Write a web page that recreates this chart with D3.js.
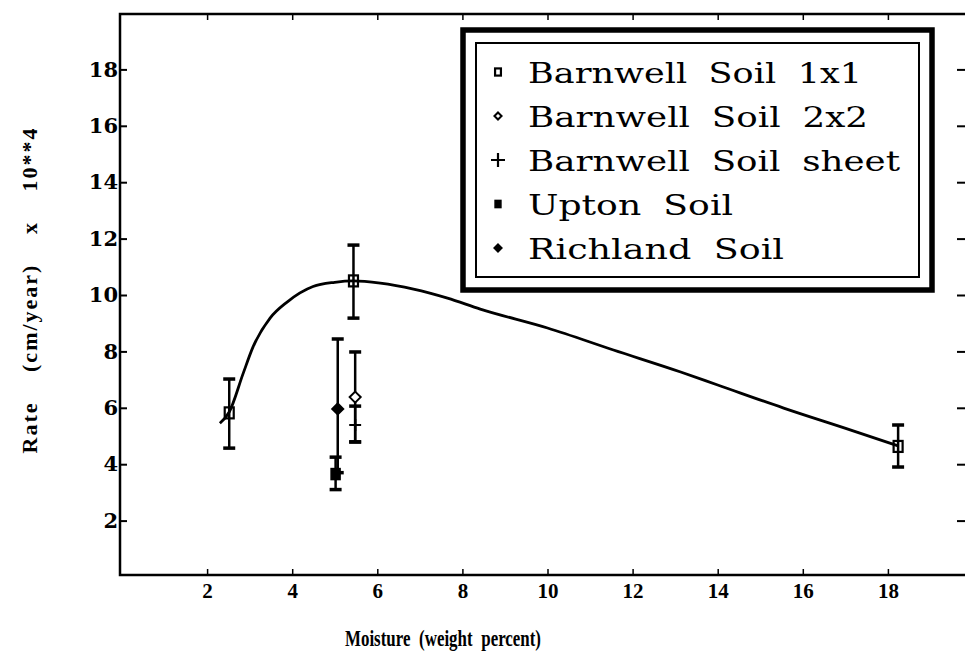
<!DOCTYPE html>
<html><head><meta charset="utf-8">
<script src="https://cdn.jsdelivr.net/npm/d3@7"></script>
<style>body{margin:0;background:#fff}svg{display:block}</style>
</head><body>
<svg id="c" width="965" height="653"></svg>
<script>
// ---------- data ----------
const xTicks = [2, 4, 6, 8, 10, 12, 14, 16, 18];
const yTicks = [2, 4, 6, 8, 10, 12, 14, 16, 18];
const seriesNames = ["Barnwell Soil 1x1", "Barnwell Soil 2x2", "Barnwell Soil sheet", "Upton Soil", "Richland Soil"];
const seriesSymbols = ["squareOpen", "diamondOpen", "plus", "squareFilled", "diamondFilled"];
// each point: [moisture, rate, lower error, upper error]
const barnwell1x1 = [[2.52, 5.82, 4.57, 7.02], [5.44, 10.5, 9.18, 11.77], [18.24, 4.63, 3.9, 5.39]];
const barnwell2x2 = [[5.48, 6.38, 4.79, 7.98]];
const barnwellSheet = [[5.48, 5.39, 4.79, 6.06]];
const upton = [[5.02, 3.65, 3.1, 4.25]];
const richland = [[5.07, 5.96, 3.7, 8.44]];
// fitted curve
const fitX = [2.3, 2.52, 2.85, 3.08, 3.48, 3.88, 4.49, 5.0, 5.44, 6.07, 6.85, 7.65, 8.42, 10.0, 11.55, 13.13, 14.0, 15.55, 17.13, 18.24];
const fitY = [5.45, 5.85, 7.23, 8.16, 9.18, 9.75, 10.3, 10.45, 10.5, 10.42, 10.21, 9.89, 9.5, 8.83, 8.05, 7.27, 6.81, 5.99, 5.21, 4.65];
// legend text widths (px)
const legendWidths = [334, 340, 372, 205, 256];

// ---------- chart ----------
const svg = d3.select("#c");
const x = d3.scaleLinear().domain([0, 20]).range([122, 973]);
const y = d3.scaleLinear().domain([0, 20]).range([577, 13]);
const L = 120, R = 968, T = 14, B = 575;

// axes
const gl = svg.append("g").attr("transform", `translate(${L},0)`)
  .call(d3.axisLeft(y).tickValues(yTicks).tickSize(-7).tickPadding(2));
gl.select(".domain").remove();
gl.selectAll("text").attr("font-family", "DejaVu Serif").attr("font-weight", "bold")
  .attr("font-size", 21).attr("fill", "#000");
gl.selectAll("line").attr("stroke", "#000").attr("stroke-width", 2);

const gb = svg.append("g").attr("transform", `translate(0,${B})`)
  .call(d3.axisBottom(x).tickValues(xTicks).tickSize(-6).tickPadding(8));
gb.select(".domain").remove();
gb.selectAll("text").attr("font-family", "Liberation Serif").attr("font-weight", "bold")
  .attr("font-size", 21).attr("fill", "#000");
gb.selectAll("line").attr("stroke", "#000").attr("stroke-width", 1.5);

const gt = svg.append("g").attr("transform", `translate(0,${T})`)
  .call(d3.axisTop(x).tickValues(xTicks).tickSize(-6).tickFormat(""));
gt.select(".domain").remove();
gt.selectAll("line").attr("stroke", "#000").attr("stroke-width", 1.5);

const gr = svg.append("g").attr("transform", `translate(${R},0)`)
  .call(d3.axisRight(y).tickValues(yTicks).tickSize(-11).tickFormat(""));
gr.select(".domain").remove();
gr.selectAll("line").attr("stroke", "#000").attr("stroke-width", 2);

// frame
svg.append("path").attr("d", `M${L},${B}V${T}H${R}V${B}Z`)
  .attr("fill", "none").attr("stroke", "#000").attr("stroke-width", 2.5);

// axis titles
svg.append("text").attr("x", 443).attr("y", 646).attr("text-anchor", "middle")
  .attr("font-family", "Liberation Serif").attr("font-weight", "bold").attr("font-size", 23)
  .attr("word-spacing", 6)
  .attr("textLength", 196).attr("lengthAdjust", "spacingAndGlyphs")
  .text("Moisture (weight percent)");
svg.append("text").attr("transform", "translate(37,290) rotate(-90)").attr("text-anchor", "middle")
  .attr("font-family", "Liberation Serif").attr("font-weight", "bold").attr("font-size", 22)
  .attr("word-spacing", 22).attr("letter-spacing", 2)
  .text("Rate (cm/year) x 10**4");

// fitted curve
const line = d3.line().x(d => x(d[0])).y(d => y(d[1])).curve(d3.curveMonotoneX);
svg.append("path").datum(fitX.map((v, i) => [v, fitY[i]])).attr("d", line)
  .attr("fill", "none").attr("stroke", "#000").attr("stroke-width", 2.8);

// symbols
function drawSymbol(g, type, cx, cy, s) {
  if (type === "squareOpen") {
    g.append("rect").attr("x", cx - 4.5 * s).attr("y", cy - 5.5 * s).attr("width", 9 * s).attr("height", 11 * s)
      .attr("fill", "none").attr("stroke", "#000").attr("stroke-width", 2.2);
  } else if (type === "squareFilled") {
    g.append("rect").attr("x", cx - 4.5 * s).attr("y", cy - 5.5 * s).attr("width", 9 * s).attr("height", 11 * s)
      .attr("fill", "#000").attr("stroke", "#000").attr("stroke-width", 1.5);
  } else if (type === "diamondOpen" || type === "diamondFilled") {
    const r = 5.5 * s;
    g.append("path").attr("d", `M${cx},${cy - r}L${cx + r},${cy}L${cx},${cy + r}L${cx - r},${cy}Z`)
      .attr("fill", type === "diamondFilled" ? "#000" : "#fff").attr("stroke", "#000").attr("stroke-width", 2);
  } else if (type === "plus") {
    const r = 7 * s;
    g.append("path").attr("d", `M${cx - r},${cy}H${cx + r}M${cx},${cy - r}V${cy + r}`)
      .attr("stroke", "#000").attr("stroke-width", 2.2);
  }
}

const allSeries = [barnwell1x1, barnwell2x2, barnwellSheet, upton, richland];
const gp = svg.append("g");
allSeries.forEach((pts) => {
  pts.forEach(p => {
    const cx = x(p[0]);
    gp.append("line").attr("x1", cx).attr("x2", cx).attr("y1", y(p[2])).attr("y2", y(p[3]))
      .attr("stroke", "#000").attr("stroke-width", 2.5);
    [p[2], p[3]].forEach(v => {
      gp.append("line").attr("x1", cx - 6).attr("x2", cx + 6).attr("y1", y(v)).attr("y2", y(v))
        .attr("stroke", "#000").attr("stroke-width", 3.5);
    });
  });
});
allSeries.forEach((pts, si) => {
  pts.forEach(p => {
    drawSymbol(gp, seriesSymbols[si], x(p[0]), y(p[1]), si === 2 ? 0.85 : 1);
  });
});

// legend
const lg = svg.append("g");
lg.append("rect").attr("x", 463).attr("y", 30).attr("width", 469).attr("height", 260)
  .attr("fill", "#fff").attr("stroke", "#000").attr("stroke-width", 5.5);
lg.append("rect").attr("x", 476).attr("y", 43).attr("width", 443).attr("height", 234)
  .attr("fill", "none").attr("stroke", "#000").attr("stroke-width", 2);
seriesNames.forEach((name, i) => {
  const by = 83 + i * 44;
  lg.append("text").attr("x", 528).attr("y", by)
    .attr("font-family", "DejaVu Serif").attr("font-size", 27)
    .attr("word-spacing", 8).attr("fill", "#000")
    .attr("textLength", legendWidths[i]).attr("lengthAdjust", "spacingAndGlyphs")
    .text(name);
  const sym = seriesSymbols[i];
  drawSymbol(lg, sym, 498, by - 11, sym === "plus" ? 1 : 0.65);
});
</script>
</body></html>
